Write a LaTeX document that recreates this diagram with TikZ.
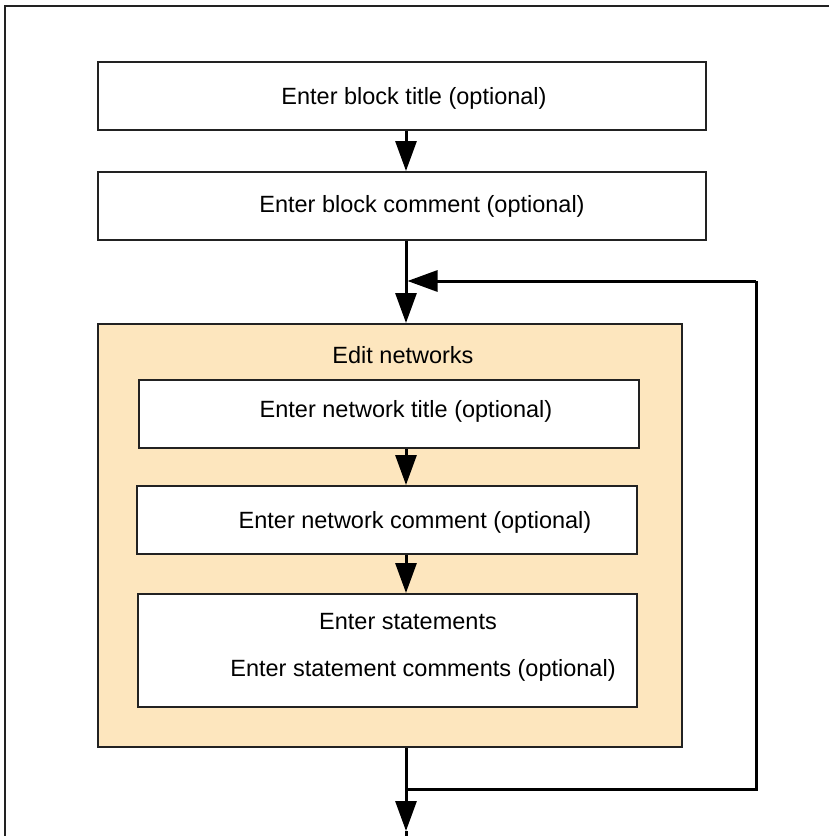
\documentclass[tikz,border=0pt]{standalone}
\usepackage{fontspec}
\setmainfont{Liberation Sans}
\usetikzlibrary{arrows.meta}
\definecolor{boxorange}{HTML}{FDE6BE}
\definecolor{edgegray}{HTML}{222222}
\tikzset{
  stepbox/.style={draw=edgegray, line width=2pt, fill=white, inner sep=0pt},
  groupbox/.style={draw=edgegray, line width=2pt, fill=boxorange, inner sep=0pt},
  lbl/.style={font=\fontsize{23.5}{28}\selectfont, inner sep=0pt, anchor=center},
  ln/.style={line width=3pt, draw=black},
  arr/.style={ln, -{Triangle[length=30pt,width=21pt]}},
}
\begin{document}
\begin{tikzpicture}[x=1pt,y=-1pt]
\useasboundingbox (0,0) rectangle (829,836);
\fill[white] (0,0) rectangle (829,836);
% outer frame
\coordinate (fbl) at (5,836);
\coordinate (ftl) at (5,6);
\coordinate (ftr) at (829,6);
\draw[line width=2pt, edgegray] (fbl) -- (ftl) -- (ftr);
% spine reference
\coordinate (sp) at (406,0);
% top boxes
\node[stepbox, minimum width=608pt, minimum height=68pt] (b1) at (402,96) {};
\node[lbl] (t1) at (414,98) {Enter block title (optional)};
\node[stepbox, minimum width=608pt, minimum height=68pt] (b2) at (402,206) {};
\node[lbl] (t2) at (422,206) {Enter block comment (optional)};
% group box
\node[groupbox, minimum width=584pt, minimum height=423pt] (grp) at (390,535.5) {};
\node[lbl] (gt) at (403,355) {Edit networks};
\node[stepbox, minimum width=500pt, minimum height=68pt] (n1) at (389,414) {};
\node[lbl] (tn1) at (406,411) {Enter network title (optional)};
\node[stepbox, minimum width=500pt, minimum height=68pt] (n2) at (387,520) {};
\node[lbl] (tn2) at (415,522) {Enter network comment (optional)};
\node[stepbox, minimum width=499pt, minimum height=113pt] (n3) at (387.5,650.5) {};
\node[lbl] (tn3a) at (408,622) {Enter statements};
\node[lbl] (tn3b) at (423,670) {Enter statement comments (optional)};
% connectors
\draw[arr] (b1.south -| sp) -- (b2.north -| sp);
\draw[arr] (b2.south -| sp) -- (grp.north -| sp);
\draw[arr] (n1.south -| sp) -- (n2.north -| sp);
\draw[arr] (n2.south -| sp) -- (n3.north -| sp);
% loop back
\coordinate (j1) at (406,281);
\coordinate (r1) at (756,281);
\coordinate (j2) at (406,789);
\coordinate (r2) at (756,789);
\coordinate (endc) at (406,831);
\coordinate (bot) at (406,836);
\draw[ln] (j2) -- (r2) -- (r1);
\draw[arr] (r1) -- ([xshift=1.5pt]j1);
\draw[arr] (grp.south -| sp) -- (endc);
\draw[ln] (endc) -- (bot);
\end{tikzpicture}
\end{document}
